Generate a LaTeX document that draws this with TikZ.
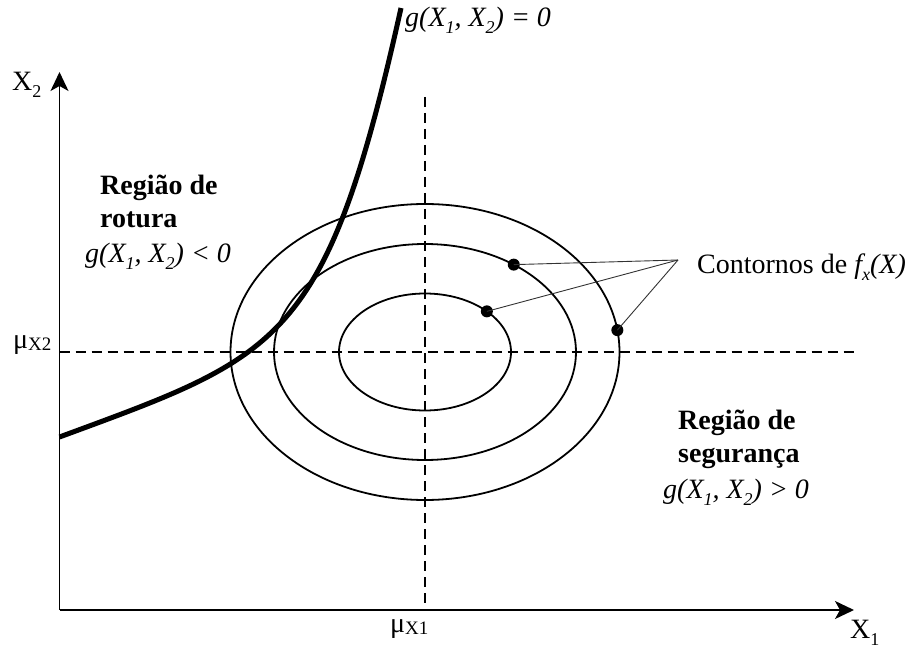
\documentclass[tikz,border=0pt]{standalone}
\usepackage{fontspec}
\setmainfont{Liberation Serif}
\usetikzlibrary{arrows.meta,calc}
\newcommand{\lowsub}[1]{\raisebox{-0.25em}{\fontsize{18}{18}\selectfont #1}}
\newcommand{\musub}[1]{\raisebox{-0.08em}{\fontsize{19}{19}\selectfont #1}}
\begin{document}
\begin{tikzpicture}[x=1pt,y=-1pt,
  lbl/.style={inner sep=0pt, anchor=base west, font=\fontsize{28}{33}\selectfont},
  axisline/.style={line width=1.6pt, -{Stealth[length=19pt,width=18pt,inset=5pt]}},
  guide/.style={line width=1.5pt, dash pattern=on 10pt off 6pt},
  contour/.style={line width=1.8pt},
  limitline/.style={line width=5pt},
  leader/.style={line width=0.9pt, draw=black!80},
  dotnode/.style={circle, fill=black, inner sep=0pt, minimum size=12pt}]
\useasboundingbox (0,0) rectangle (911,650);

% named points
\coordinate (origin) at (59.5,610);
\coordinate (xend) at (854,610);
\coordinate (yend) at (59.5,72);
\coordinate (center) at (425,352);
\coordinate (vtop) at (425,97);
\coordinate (vbot) at (425,610);
\coordinate (hleft) at (59.5,352);
\coordinate (hright) at (855,352);
\coordinate (conv) at (678,260);
\coordinate (gstart) at (59.5,437);
\coordinate (gend) at (401,8);

% dashed mean lines
\draw[guide] (vtop) -- (vbot);
\draw[guide] (hleft) -- (hright);

% contours
\draw[contour] (center) ellipse [x radius=194.5pt, y radius=148pt];
\draw[contour] (center) ellipse [x radius=151pt, y radius=108pt];
\draw[contour] (center) ellipse [x radius=86pt, y radius=58.5pt];

% limit state curve
\draw[limitline] (gstart) .. controls (280,355.6) and (326,345.5) .. (gend);

% axes
\draw[axisline] (origin) -- (xend);
\draw[axisline] (origin) -- (yend);

% dots on contours and leaders
\node[dotnode] (d1) at ($(center)+(54:151pt and 108pt)$) {};
\node[dotnode] (d2) at ($(center)+(44:86pt and 58.5pt)$) {};
\node[dotnode] (d3) at ($(center)+(8.5:194.5pt and 148pt)$) {};
\draw[leader] (conv) -- (d1.center);
\draw[leader] (conv) -- (d2.center);
\draw[leader] (conv) -- (d3.center);

% labels
\node[lbl] (lx2) at (12,91) {X\lowsub{2}};
\node[lbl] (lx1) at (850,638) {X\lowsub{1}};
\node[lbl] (lmu2) at (13,348) {μ\musub{X2}};
\node[lbl] (lmu1) at (390,632) {μ\musub{X1}};
\node[lbl] (lg0) at (405,27) {\itshape g(X\lowsub{1}, X\lowsub{2}) = 0};
\node[lbl] (rot1) at (100,194) {\bfseries Região de};
\node[lbl] (rot2) at (100,227) {\bfseries rotura};
\node[lbl] (gneg) at (85,262) {\itshape g(X\lowsub{1}, X\lowsub{2}) < 0};
\node[lbl] (seg1) at (678,429) {\bfseries Região de};
\node[lbl] (seg2) at (678,462) {\bfseries segurança};
\node[lbl] (gpos) at (663,498) {\itshape g(X\lowsub{1}, X\lowsub{2}) > 0};
\node[lbl] (cont) at (697,273) {Contornos de \itshape f\lowsub{x}(X)};
\end{tikzpicture}
\end{document}
